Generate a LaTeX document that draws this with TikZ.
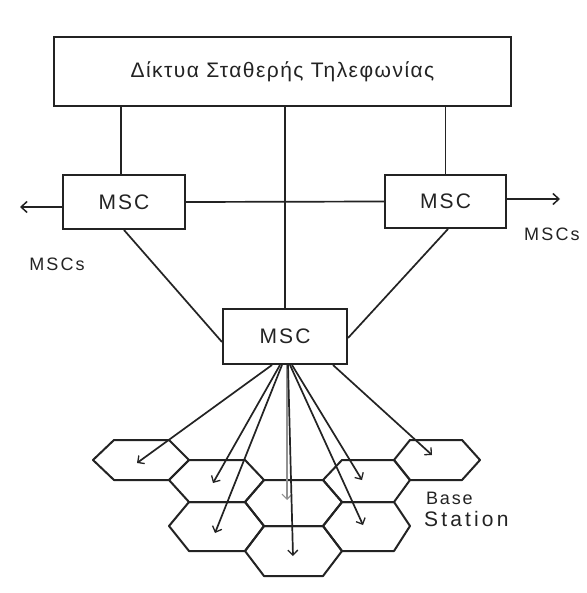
\documentclass[tikz,border=0pt]{standalone}
\usepackage{fontspec}
\setmainfont{Liberation Sans}
\usetikzlibrary{arrows.meta}
\definecolor{ink}{RGB}{35,35,35}
\newcommand\hexcell[7]{\draw[hexline] (#1,#6) -- (#2,#5) -- (#3,#5) -- (#4,#6) -- (#3,#7) -- (#2,#7) -- cycle;}
\begin{document}
\begin{tikzpicture}[x=1pt,y=-1pt,
  box/.style={draw=ink, line width=2pt, fill=white, inner sep=0pt},
  msctext/.style={font=\fontsize{21}{23}\selectfont\addfontfeature{LetterSpace=10}, text=ink},
  conn/.style={draw=ink, line width=1.7pt},
  arr/.style={conn, -{Straight Barb[length=6pt,width=11pt,line width=1.5pt]}},
  fan/.style={conn, -{Straight Barb[length=5pt,width=10pt,line width=1.3pt]}},
  fanlight/.style={draw=ink!50, line width=1.3pt, -{Straight Barb[length=5pt,width=10pt,line width=1.2pt]}},
  hexline/.style={draw=ink, line width=2pt, line join=round},
  lbl/.style={text=ink, inner sep=0pt}]
\fill[white] (0,0) rectangle (586,593);
\useasboundingbox (0,0) rectangle (586,593);

% boxes
\node[box, minimum width=457pt, minimum height=69pt,
      font=\fontsize{21}{24}\selectfont\addfontfeature{LetterSpace=7}, text=ink]
      (top) at (282.5,71.5) {Δίκτυα Σταθερής Τηλεφωνίας};
\node[box, msctext, minimum width=122pt, minimum height=54pt] (lmsc) at (124,202) {MSC};
\node[box, msctext, minimum width=121pt, minimum height=53pt] (rmsc) at (445.5,201.5) {MSC};
\node[box, msctext, minimum width=124pt, minimum height=55pt] (cmsc) at (285,336.5) {MSC};

% labels
\node[lbl, font=\fontsize{18}{20}\selectfont\addfontfeature{LetterSpace=12}] (lmscs) at (57,264) {MSCs};
\node[lbl, anchor=west, font=\fontsize{18}{20}\selectfont\addfontfeature{LetterSpace=12}] (rmscs) at (524,234) {MSCs};
\node[lbl, anchor=west, font=\fontsize{18}{20}\selectfont\addfontfeature{LetterSpace=10}] (bs1) at (426,498) {Base};
\node[lbl, anchor=west, font=\fontsize{21}{23}\selectfont\addfontfeature{LetterSpace=15}] (bs2) at (424,519) {Station};

% connectors from the fixed network
\draw[conn] ([xshift=-3pt]lmsc.north) -- ([xshift=-3pt]lmsc.north |- top.south);
\draw[conn] (cmsc.north) -- (cmsc.north |- top.south);
\draw[conn] (rmsc.north) -- (rmsc.north |- top.south);
\draw[conn] (lmsc.east) -- (rmsc.west);
\draw[conn] (lmsc.south) -- ([yshift=-5.5pt]cmsc.west);
\draw[conn] ([xshift=2.5pt]rmsc.south) -- ([yshift=-1.5pt]cmsc.east);

% arrows to other MSCs
\coordinate (lout) at (20,207);
\coordinate (rout) at (560,199);
\draw[arr] ([yshift=-5pt]lmsc.west) -- (lout);
\draw[arr] ([yshift=2.5pt]rmsc.east) -- (rout);

% honeycomb of cells
% A, H (top row)
\hexcell{93}{114}{169}{189}{440}{460}{480}
\hexcell{394}{410}{462}{480}{440}{460}{480}
% B, F
\hexcell{169}{189}{245}{264}{460}{480}{502}
\hexcell{323}{342}{394}{410}{460}{480}{502}
% E
\hexcell{245}{264}{323}{342}{480}{502}{526}
% C, G
\hexcell{169}{189}{245}{264}{502}{526}{551}
\hexcell{323}{342}{394}{410}{502}{526}{551}
% D
\hexcell{245}{264}{323}{342}{526}{551}{576}

% arrow tips in the cells
\coordinate (tA) at (137,463);
\coordinate (tB) at (213,483);
\coordinate (tC) at (215,533);
\coordinate (tD) at (293,556);
\coordinate (tE) at (287,500);
\coordinate (tF) at (362,480);
\coordinate (tG) at (363,525);
\coordinate (tH) at (432,455);

\draw[fanlight] ([xshift=2pt]cmsc.south) -- (tE);
\draw[fan] ([xshift=-13pt]cmsc.south) -- (tA);
\draw[fan] ([xshift=-5pt]cmsc.south) -- (tB);
\draw[fan] ([xshift=-3pt]cmsc.south) -- (tC);
\draw[fan] ([xshift=3pt]cmsc.south) -- (tD);
\draw[fan] ([xshift=7pt]cmsc.south) -- (tF);
\draw[fan] ([xshift=5pt]cmsc.south) -- (tG);
\draw[fan] ([xshift=48pt]cmsc.south) -- (tH);
\end{tikzpicture}
\end{document}
